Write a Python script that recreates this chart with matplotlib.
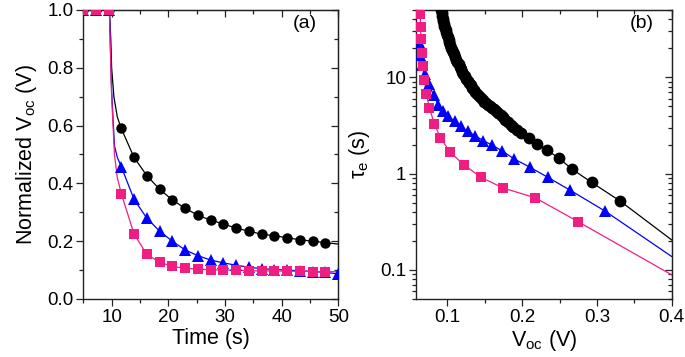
import matplotlib
matplotlib.use('Agg')
import matplotlib.pyplot as plt
from matplotlib.ticker import MultipleLocator, LogLocator, FuncFormatter, NullFormatter

plt.rcParams['font.family'] = ['Liberation Sans', 'DejaVu Sans']
plt.rcParams['mathtext.fontset'] = 'custom'
plt.rcParams['mathtext.rm'] = 'Liberation Sans'
plt.rcParams['mathtext.it'] = 'Liberation Sans:italic'

BLACK = '#000000'
BLUE = '#0000FF'
PINK = '#F01E82'

# ---------------- panel (a) data ----------------
time_a = [4.95, 7.2, 9.45, 11.7, 13.95, 16.2, 18.45, 20.7, 22.95, 25.2, 27.45,
          29.7, 31.95, 34.2, 36.45, 38.7, 40.95, 43.2, 45.45, 47.7]
black_a = [1.0, 1.0, 1.0, 0.59, 0.49, 0.427, 0.38, 0.343, 0.314, 0.29, 0.273,
           0.26, 0.245, 0.235, 0.224, 0.219, 0.212, 0.205, 0.2, 0.195]
blue_a = [1.0, 1.0, 1.0, 0.458, 0.345, 0.28, 0.235, 0.2, 0.17, 0.15, 0.135,
          0.125, 0.117, 0.11, 0.105, 0.102, 0.1, 0.098, 0.095, 0.092]
pink_a = [1.0, 1.0, 1.0, 0.365, 0.225, 0.155, 0.127, 0.113, 0.106, 0.104, 0.101,
          0.1, 0.1, 0.098, 0.097, 0.097, 0.096, 0.096, 0.095, 0.095]
blue_last_t = [49.95]
blue_last_v = [0.087]

# drop segment of the fitted lines (between 9.45 s and 11.7 s)
drop_t_black = [9.6, 9.85, 10.0, 10.4, 11.0]
drop_v_black = [1.0, 0.9, 0.8, 0.7, 0.63]
drop_t_blue = [9.6, 10.0, 10.5, 11.0]
drop_v_blue = [1.0, 0.72, 0.53, 0.49]
drop_t_pink = [9.6, 10.0, 10.5, 11.0]
drop_v_pink = [1.0, 0.7, 0.5, 0.42]
end_t = [50.0]
end_black = [0.19]
end_pink = [0.094]

# ---------------- panel (b) data ----------------
voc_black = [0.0905, 0.0910, 0.0915, 0.0922, 0.0930, 0.0937, 0.0945, 0.0952, 0.0960,
             0.0967, 0.0975, 0.0985, 0.0995, 0.1005, 0.1015, 0.1027, 0.1040, 0.1052,
             0.1065, 0.1077, 0.1090, 0.1105, 0.1120, 0.1135, 0.1150, 0.1165, 0.1180,
             0.1197, 0.1215, 0.1232, 0.1250, 0.1270, 0.1290, 0.1310, 0.1330, 0.1352,
             0.1375, 0.1397, 0.1420, 0.1445, 0.1470, 0.1495, 0.1520, 0.1545, 0.1570,
             0.1595, 0.1620, 0.1650, 0.1680, 0.1712, 0.1744, 0.1777, 0.1810, 0.1844,
             0.1878, 0.1934, 0.1990, 0.2090, 0.2200, 0.2330, 0.2490, 0.2670, 0.2930,
             0.3310]
tau_black = [56, 52, 50, 46.5, 43, 40.5, 38, 36, 34,
             32.5, 31, 29.2, 27.5, 26, 24.5, 23, 21.5, 20.4,
             19.3, 18.3, 17.3, 16.3, 15.3, 14.4, 13.6, 12.8, 12.1,
             11.4, 10.8, 10.2, 9.7, 9.2, 8.7, 8.25, 7.8, 7.4,
             7.0, 6.7, 6.4, 6.1, 5.85, 5.6, 5.35, 5.17, 5.0,
             4.85, 4.7, 4.47, 4.25, 4.03, 3.83, 3.62, 3.42, 3.22,
             3.03, 2.83, 2.65, 2.35, 2.03, 1.76, 1.45, 1.11, 0.81,
             0.52]
voc_blue = [0.0630, 0.0640, 0.0660, 0.0700, 0.0750, 0.0815, 0.0880, 0.0945, 0.1010,
            0.1095, 0.1180, 0.1270, 0.1375, 0.1480, 0.1597, 0.1735, 0.1888, 0.2100,
            0.2339, 0.2646, 0.3106]
tau_blue = [22, 17, 13.5, 10.8, 8.6, 6.5, 5.2, 4.45, 3.95,
            3.5, 3.1, 2.75, 2.47, 2.2, 1.98, 1.72, 1.43, 1.17,
            0.92, 0.67, 0.41]
voc_pink = [0.0638, 0.0641, 0.0647, 0.0660, 0.0669, 0.0692, 0.0719, 0.0759, 0.0826,
            0.0906, 0.1040, 0.1218, 0.1446, 0.1744, 0.2178, 0.2749]
tau_pink = [45, 33, 24.8, 17.8, 13.0, 9.44, 6.73, 4.79, 3.30,
            2.35, 1.66, 1.24, 0.92, 0.71, 0.56, 0.317]
voc_end = [0.4]
tau_end_black = [0.205]
tau_end_blue = [0.138]
tau_end_pink = [0.089]
voc_start_pink = [0.0636]
tau_start_pink = [60]

fig = plt.figure(figsize=(6.85, 3.57), dpi=100)
ax1 = fig.add_axes([0.1216, 0.1625, 0.3723, 0.8095])
ax2 = fig.add_axes([0.6073, 0.1625, 0.3733, 0.8095])

lw = 0.9
# panel (a) lines
ax1.plot(time_a[:3] + drop_t_black + time_a[3:] + end_t,
         black_a[:3] + drop_v_black + black_a[3:] + end_black, color=BLACK, lw=lw, zorder=2)
ax1.plot(time_a[:3] + drop_t_blue + time_a[3:] + blue_last_t,
         blue_a[:3] + drop_v_blue + blue_a[3:] + blue_last_v, color=BLUE, lw=lw, zorder=2)
ax1.plot(time_a[:3] + drop_t_pink + time_a[3:] + end_t,
         pink_a[:3] + drop_v_pink + pink_a[3:] + end_pink, color=PINK, lw=lw, zorder=2)
# panel (a) markers
ax1.plot(time_a, black_a, 'o', color=BLACK, ms=7.5, mew=0, zorder=3)
ax1.plot(time_a + blue_last_t, blue_a + blue_last_v, '^', color=BLUE, ms=9, mew=0, zorder=4)
ax1.plot(time_a, pink_a, 's', color=PINK, ms=6.5, mew=0, zorder=5)

ax1.set_xlim(5, 50)
ax1.set_ylim(0, 1.0)
ax1.xaxis.set_major_locator(MultipleLocator(10))
ax1.xaxis.set_minor_locator(MultipleLocator(5))
ax1.yaxis.set_major_locator(MultipleLocator(0.2))
ax1.yaxis.set_minor_locator(MultipleLocator(0.1))
ax1.yaxis.set_major_formatter(FuncFormatter(lambda v, p: f'{v:.1f}'))
ax1.set_xlabel('Time (s)', fontsize=15.5, labelpad=2)
ax1.set_ylabel(r'Normalized V$_{\mathregular{oc}}$ (V)', fontsize=15.5, labelpad=6)
ax1.text(0.87, 0.955, '(a)', transform=ax1.transAxes, fontsize=14, ha='center', va='center')

# panel (b)
ax2.plot(voc_black + voc_end, tau_black + tau_end_black, color=BLACK, lw=lw, zorder=2)
ax2.plot(voc_blue + voc_end, tau_blue + tau_end_blue, color=BLUE, lw=lw, zorder=2)
ax2.plot(voc_start_pink + voc_pink + voc_end, tau_start_pink + tau_pink + tau_end_pink,
         color=PINK, lw=lw, zorder=2)
ax2.plot(voc_black, tau_black, 'o', color=BLACK, ms=8.5, mew=0, zorder=3)
ax2.plot(voc_blue, tau_blue, '^', color=BLUE, ms=9, mew=0, zorder=4)
ax2.plot(voc_pink, tau_pink, 's', color=PINK, ms=6.5, mew=0, zorder=5)

ax2.set_yscale('log')
ax2.set_xlim(0.058, 0.4)
ax2.set_ylim(0.05, 50)
ax2.xaxis.set_major_locator(MultipleLocator(0.1))
ax2.xaxis.set_minor_locator(MultipleLocator(0.05))
ax2.xaxis.set_major_formatter(FuncFormatter(lambda v, p: f'{v:.1f}'))
ax2.yaxis.set_major_locator(LogLocator(base=10, numticks=10))
ax2.yaxis.set_minor_locator(LogLocator(base=10, subs=range(2, 10), numticks=20))
ax2.yaxis.set_major_formatter(FuncFormatter(lambda v, p: f'{v:g}'))
ax2.yaxis.set_minor_formatter(NullFormatter())
ax2.set_xlabel(r'V$_{\mathregular{oc}}$ (V)', fontsize=15.5, labelpad=2)
ax2.set_ylabel(r'τ$_{\mathregular{e}}$ (s)', fontsize=15.5, labelpad=6)
ax2.text(0.883, 0.955, '(b)', transform=ax2.transAxes, fontsize=14, ha='center', va='center')

for ax in (ax1, ax2):
    for s in ax.spines.values():
        s.set_linewidth(1.0)
        s.set_color('#222222')
    ax.tick_params(which='both', direction='out', top=False, right=False,
                   labelsize=13.5, width=0.9, color='#222222', pad=2)
    ax.tick_params(which='major', length=5)
    ax.tick_params(which='minor', length=3)
    sec_x = ax.secondary_xaxis('top')
    sec_y = ax.secondary_yaxis('right')
    for sec in (sec_x, sec_y):
        sec.tick_params(which='both', direction='in', width=0.9, color='#222222')
        sec.tick_params(which='major', length=5)
        sec.tick_params(which='minor', length=3)
    sec_x.xaxis.set_major_locator(ax.xaxis.get_major_locator())
    sec_x.xaxis.set_minor_locator(ax.xaxis.get_minor_locator())
    sec_y.yaxis.set_major_locator(ax.yaxis.get_major_locator())
    sec_y.yaxis.set_minor_locator(ax.yaxis.get_minor_locator())
    sec_x.set_xticklabels([])
    sec_y.set_yticklabels([])
    sec_x.xaxis.set_minor_formatter(NullFormatter())
    sec_y.yaxis.set_minor_formatter(NullFormatter())

fig.savefig('out.png', dpi=100)
